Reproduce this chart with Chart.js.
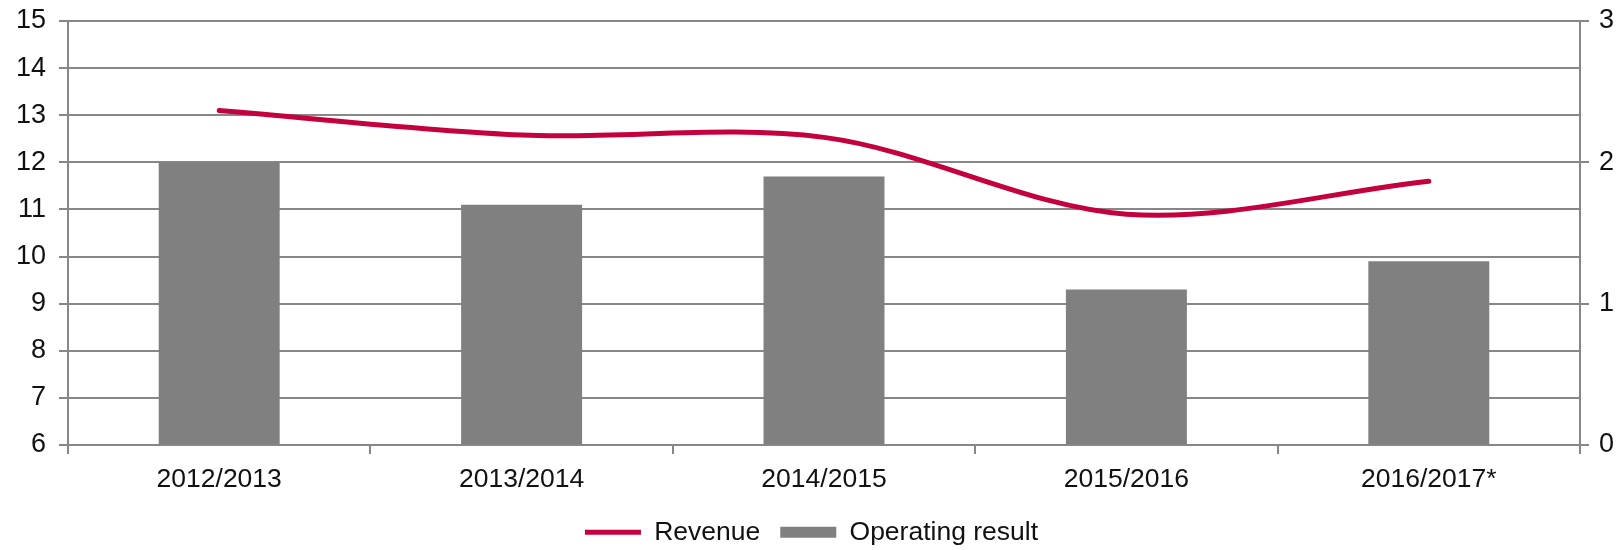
<!DOCTYPE html>
<html>
<head>
<meta charset="utf-8">
<script src="https://cdn.jsdelivr.net/npm/chart.js@4/dist/chart.umd.min.js"></script>
<style>
  html, body { margin: 0; padding: 0; background: #fff; }
  #wrap { width: 1623px; height: 550px; }
</style>
</head>
<body>
<div id="wrap"><canvas id="chart" width="1623" height="550"></canvas></div>
<script>
// season labels
let seasons = ['2012/2013', '2013/2014', '2014/2015', '2015/2016', '2016/2017*'];
// revenue, left axis
let revenue = [13.1, 12.58, 12.53, 10.9, 11.6];
// operating result, right axis
let operatingResult = [2.0, 1.7, 1.9, 1.1, 1.3];

let leftTicks = {min: 6, max: 15, step: 1};
let rightTicks = {min: 0, max: 3, step: 1};

let gridColor = '#878787';
let fontFamily = "'Liberation Sans', Arial, sans-serif";

Chart.defaults.font.family = fontFamily;
Chart.defaults.color = '#111';

var ctx = document.getElementById('chart');
var chart = new Chart(ctx, {
    type: 'bar',
    data: {
        labels: seasons,
        datasets: [
            {
                type: 'line',
                label: 'Revenue',
                data: revenue,
                yAxisID: 'y',
                borderColor: '#c4003e',
                backgroundColor: '#c4003e',
                borderWidth: 5,
                borderCapStyle: 'round',
                pointRadius: 0,
                tension: 0.33,
                fill: false
            },
            {
                type: 'bar',
                label: 'Operating result',
                data: operatingResult,
                yAxisID: 'y1',
                backgroundColor: '#808080',
                borderWidth: 0,
                barPercentage: 1,
                categoryPercentage: 0.4
            }
        ]
    },
    options: {
        responsive: false,
        animation: false,
        layout: { padding: { top: 21, left: 0, right: 0, bottom: 0 } },
        plugins: {
            tooltip: { enabled: false },
            legend: {
                display: true,
                position: 'bottom',
                maxHeight: 51,
                labels: {
                    usePointStyle: true,
                    pointStyleWidth: 56,
                    boxHeight: 11,
                    padding: 20,
                    color: '#111',
                    font: { size: 26.5 },
                    generateLabels: function(c) {
                        let items = Chart.defaults.plugins.legend.labels.generateLabels(c);
                        items[0].pointStyle = 'line';
                        items[1].pointStyle = 'rect';
                        return items;
                    }
                }
            }
        },
        scales: {
            x: {
                offset: true,
                grid: {
                    offset: true,
                    drawOnChartArea: false,
                    drawTicks: true,
                    tickLength: 9,
                    color: gridColor,
                    lineWidth: 2
                },
                border: { color: gridColor, width: 2 },
                ticks: { font: { size: 26.5 }, padding: 10, color: '#111' },
                afterFit: function(scale) { scale.height = 54; }
            },
            y: {
                position: 'left',
                min: leftTicks.min,
                max: leftTicks.max,
                ticks: { stepSize: leftTicks.step, font: { size: 27 }, padding: 13, color: '#111' },
                grid: { color: gridColor, lineWidth: 2, tickLength: 9 },
                border: { color: gridColor, width: 2 },
                afterFit: function(scale) {
                    scale.width = 68;
                    scale.paddingTop = 0;
                    scale.paddingBottom = 0;
                }
            },
            y1: {
                position: 'right',
                min: rightTicks.min,
                max: rightTicks.max,
                ticks: { stepSize: rightTicks.step, font: { size: 27 }, padding: 10, color: '#111' },
                grid: { drawOnChartArea: false, color: gridColor, lineWidth: 2, tickLength: 9 },
                border: { color: gridColor, width: 2 },
                afterFit: function(scale) {
                    scale.width = 43;
                    scale.paddingTop = 0;
                    scale.paddingBottom = 0;
                }
            }
        }
    }
});
</script>
</body>
</html>
